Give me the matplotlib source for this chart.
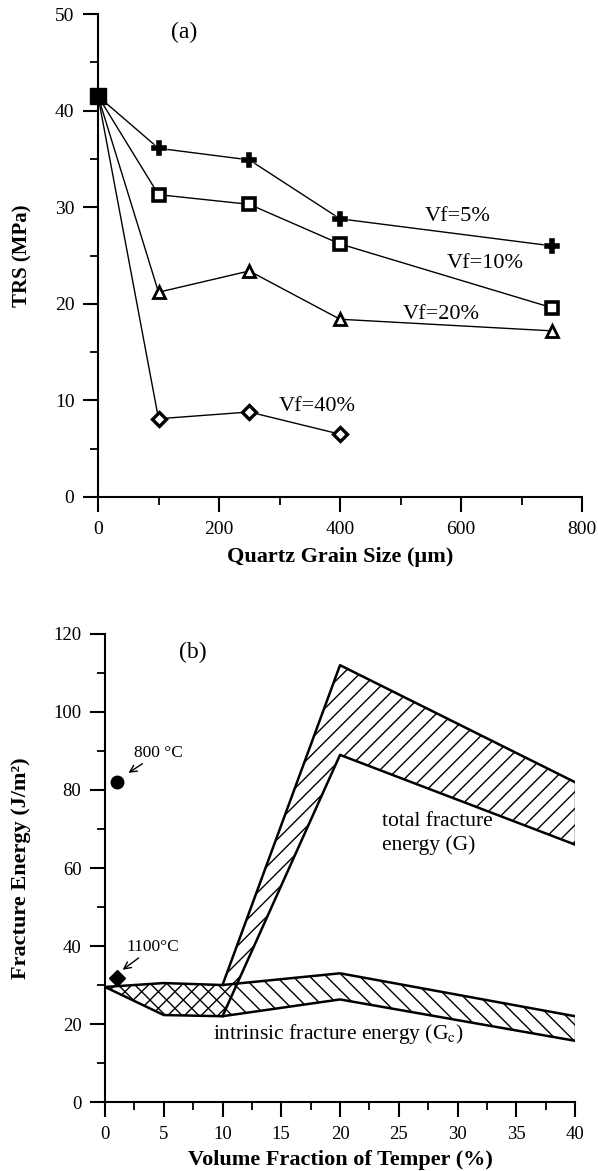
"""
Two-panel figure: (a) TRS vs quartz grain size, (b) fracture energy vs temper fraction.
"""
import matplotlib
matplotlib.use("Agg")
import matplotlib.pyplot as plt
from matplotlib.ticker import MultipleLocator

plt.rcParams["font.family"] = ["Liberation Serif", "DejaVu Serif"]
plt.rcParams["mathtext.fontset"] = "stix"
plt.rcParams["hatch.linewidth"] = 1.0

# ---- panel (a) data ----
grain_size = [0, 100, 250, 400, 750]
trs_vf5 = [41.5, 36.1, 34.9, 28.8, 26.0]
trs_vf10 = [41.5, 31.3, 30.3, 26.2, 19.6]
trs_vf20 = [41.5, 21.2, 23.4, 18.4, 17.2]
grain_size_40 = [0, 100, 250, 400]
trs_vf40 = [41.5, 8.1, 8.8, 6.5]
trs_unfilled = [41.5]  # pure clay, grain size 0

# ---- panel (b) data ----
vol_frac = [0, 5, 10, 20, 40]
gc_upper = [29.5, 30.5, 30.0, 33.0, 22.0]
gc_lower = [29.5, 22.3, 22.0, 26.3, 15.7]
g_upper = [29.5, 30.5, 30.0, 112.0, 82.0]
g_lower = [29.5, 22.3, 22.0, 89.0, 66.0]
g_edge_x = [10, 20, 40]
g_edge_upper = [30.0, 112.0, 82.0]
g_edge_lower = [22.0, 89.0, 66.0]
fired_800 = (1, 82.0)
fired_1100 = (1, 31.7)

fig = plt.figure(figsize=(5.98, 11.71), dpi=100)
ax_a = fig.add_axes([0.1639, 0.5756, 0.8094, 0.4124])
ax_b = fig.add_axes([0.1756, 0.0589, 0.786, 0.3997])

for ax in (ax_a, ax_b):
    ax.spines["top"].set_visible(False)
    ax.spines["right"].set_visible(False)
    ax.spines["left"].set_linewidth(1.5)
    ax.spines["bottom"].set_linewidth(1.5)
    ax.tick_params(which="major", direction="out", length=11, width=1.5, pad=6)
    ax.tick_params(which="minor", direction="out", length=5.5, width=1.3)

# ---- (a) ----
line_kw = dict(color="black", linewidth=1.0, markevery=slice(1, None))
ax_a.plot(grain_size, trs_vf5, marker="P", markersize=12, markerfacecolor="black",
          markeredgecolor="white", markeredgewidth=0.3, **line_kw)
ax_a.plot(grain_size, trs_vf10, marker="s", markersize=9, markerfacecolor="white",
          markeredgecolor="black", markeredgewidth=2.6, **line_kw)
ax_a.plot(grain_size, trs_vf20, marker="^", markersize=8, markerfacecolor="white",
          markeredgecolor="black", markeredgewidth=2.0, **line_kw)
ax_a.plot(grain_size_40, trs_vf40, marker="D", markersize=7.5, markerfacecolor="white",
          markeredgecolor="black", markeredgewidth=2.4, **line_kw)
ax_a.plot([0], trs_unfilled, marker="s", markersize=12, color="black", linestyle="none",
          clip_on=False, zorder=5)

ax_a.text(540, 29.0, "Vf=5%", fontsize=16, va="center")
ax_a.text(577, 24.2, "Vf=10%", fontsize=16, va="center")
ax_a.text(504, 18.9, "Vf=20%", fontsize=16, va="center")
ax_a.text(298, 9.4, "Vf=40%", fontsize=16, va="center")
ax_a.text(143, 48.1, "(a)", fontsize=17, ha="center", va="center")

ax_a.set_xlim(0, 800)
ax_a.set_ylim(0, 50)
ax_a.xaxis.set_major_locator(MultipleLocator(200))
ax_a.xaxis.set_minor_locator(MultipleLocator(100))
ax_a.yaxis.set_major_locator(MultipleLocator(10))
ax_a.yaxis.set_minor_locator(MultipleLocator(5))
ax_a.tick_params(labelsize=14)
ax_a.set_xlabel("Quartz Grain Size (µm)", fontsize=16, fontweight="bold", labelpad=7)
ax_a.set_ylabel("TRS (MPa)", fontsize=15, fontweight="bold", labelpad=16)

# ---- (b) ----
ax_b.fill_between(vol_frac, gc_lower, gc_upper, facecolor="none", edgecolor="black",
                  hatch="\\\\", linewidth=0)
ax_b.fill_between(vol_frac, g_lower, g_upper, facecolor="none", edgecolor="black",
                  hatch="//", linewidth=0)
ax_b.plot(vol_frac, gc_upper, color="black", linewidth=1.8)
ax_b.plot(vol_frac, gc_lower, color="black", linewidth=1.8)
ax_b.plot(g_edge_x, g_edge_upper, color="black", linewidth=1.8)
ax_b.plot(g_edge_x, g_edge_lower, color="black", linewidth=1.8)
ax_b.plot([vol_frac[-1], vol_frac[-1]], [gc_lower[-1], gc_upper[-1]], color="black", linewidth=1.0)
ax_b.plot([g_edge_x[-1], g_edge_x[-1]], [g_edge_lower[-1], g_edge_upper[-1]], color="black", linewidth=1.0)

ax_b.plot(*fired_800, marker="o", markersize=9, color="black")
ax_b.plot(*fired_1100, marker="D", markersize=8, color="black")
ax_b.annotate("800 °C", xy=(2.0, 84.4), xytext=(2.5, 89.5), fontsize=12.5, va="center",
              arrowprops=dict(arrowstyle="->", color="black", lw=1.0, shrinkA=0, shrinkB=0))
ax_b.annotate("1100°C", xy=(1.5, 33.9), xytext=(1.85, 39.7), fontsize=12.5, va="center",
              arrowprops=dict(arrowstyle="->", color="black", lw=1.0, shrinkA=0, shrinkB=0))

ax_b.text(23.6, 71.9, "total fracture", fontsize=15.5, va="center")
ax_b.text(23.6, 65.9, "energy (G)", fontsize=15.5, va="center")
ax_b.text(9.15, 17.4, "intrinsic fracture energy (G$_{\\rm c}$)", fontsize=15.5, va="center")
ax_b.text(7.45, 115.2, "(b)", fontsize=17, ha="center", va="center")

ax_b.set_xlim(0, 40)
ax_b.set_ylim(0, 120)
ax_b.xaxis.set_major_locator(MultipleLocator(5))
ax_b.xaxis.set_minor_locator(MultipleLocator(2.5))
ax_b.yaxis.set_major_locator(MultipleLocator(20))
ax_b.yaxis.set_minor_locator(MultipleLocator(10))
ax_b.tick_params(labelsize=13.5)
ax_b.set_xlabel("Volume Fraction of Temper (%)", fontsize=16, fontweight="bold", labelpad=5)
ax_b.set_ylabel("Fracture Energy (J/m²)", fontsize=16, fontweight="bold", labelpad=16)

fig.savefig("out.png", dpi=100)
